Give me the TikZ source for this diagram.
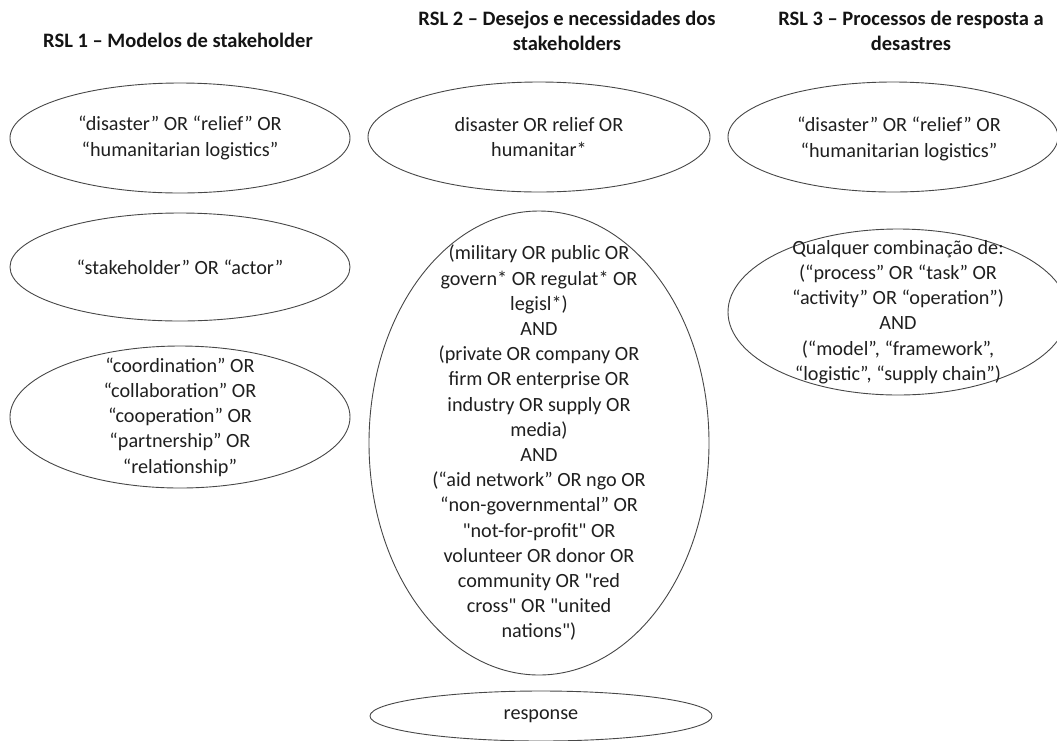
\documentclass[tikz,border=0pt]{standalone}
\usepackage{fontspec}
% a family without TeX input mapping, so ASCII quotes stay straight
\newfontfamily\calib{Carlito}
\usetikzlibrary{shapes.geometric}
\begin{document}
\begin{tikzpicture}[x=1pt,y=-1pt,
  oval/.style={draw=black!72, line width=0.9pt, ellipse, inner sep=0pt},
  terms/.style={align=center, inner sep=0pt, text=black!88,
    font=\calib\fontsize{20.2}{25.2}\selectfont},
  head/.style={align=center, inner sep=0pt, text=black!92,
    font=\calib\fontsize{20.5}{25}\selectfont\bfseries}]
\path[use as bounding box] (0,0) rectangle (1057,740);
\clip (0,0) rectangle (1057,740);

% column headings
\node[head] (h1) at (178,40) {RSL 1 – Modelos de stakeholder};
\node[head] (h2) at (567,31) {RSL 2 – Desejos e necessidades dos\\stakeholders};
\node[head] (h3) at (911,31) {RSL 3 – Processos de resposta a\\desastres};

% RSL 1 search terms
\node[oval, minimum width=340pt, minimum height=110pt] (e1a) at (180,138) {};
\node[terms] (t1a) at (e1a.center) {“disaster” OR “relief” OR\\“humanitarian logistics”};
\node[oval, minimum width=340pt, minimum height=108pt] (e1b) at (180,267) {};
\node[terms] (t1b) at (e1b.center) {“stakeholder” OR “actor”};
\node[oval, minimum width=340pt, minimum height=142pt] (e1c) at (180,417) {};
\node[terms] (t1c) at (e1c.center) {“coordination” OR\\“collaboration” OR\\“cooperation” OR\\“partnership” OR\\“relationship”};

% RSL 2 search terms
\node[oval, minimum width=342pt, minimum height=110pt] (e2a) at (539,137) {};
\node[terms] (t2a) at (e2a.center) {disaster OR relief OR\\humanitar*};
\node[oval, minimum width=340pt, minimum height=464pt] (e2b) at (539,443) {};
\node[terms] (t2b) at (e2b.center) {(military OR public OR\\govern* OR regulat* OR\\legisl*)\\AND\\(private OR company OR\\firm OR enterprise OR\\industry OR supply OR\\media)\\AND\\(“aid network” OR ngo OR\\“non-governmental” OR\\"not-for-profit" OR\\volunteer OR donor OR\\community OR "red\\cross" OR "united\\nations")};
\node[oval, minimum width=342pt, minimum height=50pt] (e2c) at (541,716) {};
\node[terms] (t2c) at (e2c.center) {response};

% RSL 3 search terms
\node[oval, minimum width=330pt, minimum height=110pt] (e3a) at (893,137) {};
\node[terms] (t3a) at (899,139) {“disaster” OR “relief” OR\\“humanitarian logistics”};
\node[oval, minimum width=340pt, minimum height=166pt] (e3b) at (898,312) {};
\node[terms] (t3b) at (e3b.center) {Qualquer combinação de:\\(“process” OR “task” OR\\“activity” OR “operation”)\\AND\\(“model”, “framework”,\\“logistic”, “supply chain”)};
\end{tikzpicture}
\end{document}
